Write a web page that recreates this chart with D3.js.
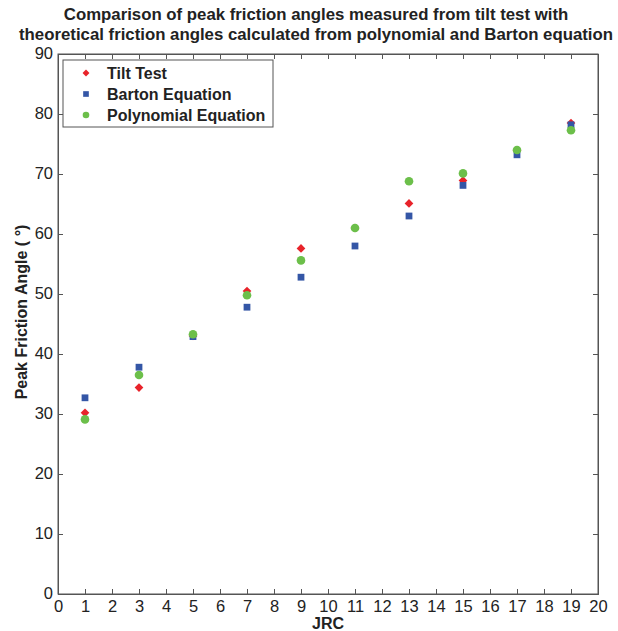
<!DOCTYPE html>
<html>
<head>
<meta charset="utf-8">
<script src="https://cdn.jsdelivr.net/npm/d3@7"></script>
<style>
  body { margin: 0; background: #fff; }
  text { font-family: "Liberation Sans", Arial, sans-serif; fill: #222; }
</style>
</head>
<body>
<svg id="chart" width="618" height="631"></svg>
<script>
// JRC values and the three series
var jrc = [1, 3, 5, 7, 9, 11, 13, 15, 17, 19];
var tiltTest = [30.2, 34.4, 43.0, 50.5, 57.6, 61.0, 65.1, 68.9, 73.9, 78.5];
var bartonEq = [32.7, 37.8, 42.9, 47.8, 52.8, 58.0, 63.0, 68.1, 73.2, 78.2];
var polyEq = [29.1, 36.5, 43.3, 49.8, 55.6, 61.0, 68.8, 70.1, 74.0, 77.3];
var xTicks = d3.range(0, 21, 1);
var yTicks = d3.range(0, 91, 10);

var svg = d3.select("#chart");
var plotLeft = 58, plotRight = 598, plotTop = 54, plotBottom = 594;

var x = d3.scaleLinear().domain([0, 20]).range([plotLeft, plotRight]);
var y = d3.scaleLinear().domain([0, 90]).range([plotBottom, plotTop]);

var axisColor = "#555";

// frame
svg.append("rect")
    .attr("x", plotLeft).attr("y", plotTop)
    .attr("width", plotRight - plotLeft).attr("height", plotBottom - plotTop)
    .attr("fill", "none").attr("stroke", axisColor).attr("stroke-width", 1);

// bottom + left axes with labels, ticks pointing inward
var xAxis = svg.append("g")
    .attr("transform", "translate(0," + plotBottom + ")")
    .call(d3.axisBottom(x).tickValues(xTicks).tickSize(-5).tickPadding(8).tickFormat(d3.format("d")));
var yAxis = svg.append("g")
    .attr("transform", "translate(" + plotLeft + ",0)")
    .call(d3.axisLeft(y).tickValues(yTicks).tickSize(-5).tickPadding(5).tickFormat(d3.format("d")));
// top + right ticks only
var xTop = svg.append("g")
    .attr("transform", "translate(0," + plotTop + ")")
    .call(d3.axisTop(x).tickValues(xTicks).tickSize(-5).tickFormat(""));
var yRight = svg.append("g")
    .attr("transform", "translate(" + plotRight + ",0)")
    .call(d3.axisRight(y).tickValues(yTicks).tickSize(-5).tickFormat(""));

[xAxis, yAxis, xTop, yRight].forEach(function (g) {
    g.select(".domain").attr("stroke", axisColor);
    g.selectAll(".tick line").attr("stroke", axisColor);
    g.selectAll(".tick text")
        .style("font-family", "Liberation Sans, Arial, sans-serif")
        .style("font-size", "16.5px")
        .attr("fill", "#222");
});
xAxis.selectAll(".tick text").attr("dy", "0.6em");
yAxis.selectAll(".tick text").attr("dy", "0.3em");

// markers: tilt (diamond = rotated square), barton (square), polynomial (circle)
var symDiamond = d3.symbol().type(d3.symbolSquare).size(38);
var symSquare = d3.symbol().type(d3.symbolSquare).size(46);

svg.append("g").selectAll("path")
    .data(jrc.map(function (j, i) { return [j, tiltTest[i]]; }))
    .enter().append("path")
    .attr("d", symDiamond)
    .attr("transform", function (d) { return "translate(" + x(d[0]) + "," + y(d[1]) + ") rotate(45)"; })
    .attr("fill", "#e8232a");

svg.append("g").selectAll("path")
    .data(jrc.map(function (j, i) { return [j, bartonEq[i]]; }))
    .enter().append("path")
    .attr("d", symSquare)
    .attr("transform", function (d) { return "translate(" + x(d[0]) + "," + y(d[1]) + ")"; })
    .attr("fill", "#3456a6");

svg.append("g").selectAll("circle")
    .data(jrc.map(function (j, i) { return [j, polyEq[i]]; }))
    .enter().append("circle")
    .attr("cx", function (d) { return x(d[0]); })
    .attr("cy", function (d) { return y(d[1]); })
    .attr("r", 4.3)
    .attr("fill", "#6cbf4a");

// legend
var legend = svg.append("g");
legend.append("rect")
    .attr("x", 63).attr("y", 60).attr("width", 210).attr("height", 67)
    .attr("fill", "#fff").attr("stroke", axisColor);
var legendItems = [
    { name: "Tilt Test", kind: "diamond", color: "#e8232a" },
    { name: "Barton Equation", kind: "square", color: "#3456a6" },
    { name: "Polynomial Equation", kind: "circle", color: "#6cbf4a" }
];
legendItems.forEach(function (it, i) {
    var ly = 73 + i * 21;
    if (it.kind === "circle") {
        legend.append("circle").attr("cx", 86).attr("cy", ly).attr("r", 3.3).attr("fill", it.color);
    } else if (it.kind === "diamond") {
        legend.append("path")
            .attr("d", d3.symbol().type(d3.symbolSquare).size(24)())
            .attr("transform", "translate(86," + ly + ") rotate(45)")
            .attr("fill", it.color);
    } else {
        legend.append("path")
            .attr("d", d3.symbol().type(d3.symbolSquare).size(32)())
            .attr("transform", "translate(86," + ly + ")")
            .attr("fill", it.color);
    }
    legend.append("text")
        .attr("x", 107).attr("y", ly).attr("dy", "0.36em")
        .style("font-size", "16px").style("font-weight", "bold")
        .text(it.name);
});

// title
var title = ["Comparison of peak friction angles measured from tilt test with",
             "theoretical friction angles calculated from polynomial and Barton equation"];
title.forEach(function (t, i) {
    svg.append("text")
        .attr("x", 316).attr("y", 20 + i * 20)
        .attr("text-anchor", "middle")
        .style("font-size", "16.8px").style("font-weight", "bold")
        .text(t);
});

// axis labels
svg.append("text")
    .attr("x", 328).attr("y", 629)
    .attr("text-anchor", "middle")
    .style("font-size", "16px").style("font-weight", "bold")
    .text("JRC");

svg.append("text")
    .attr("transform", "translate(27,312) rotate(-90)")
    .attr("text-anchor", "middle")
    .style("font-size", "16px").style("font-weight", "bold")
    .text("Peak Friction Angle ( °)");
</script>
</body>
</html>
